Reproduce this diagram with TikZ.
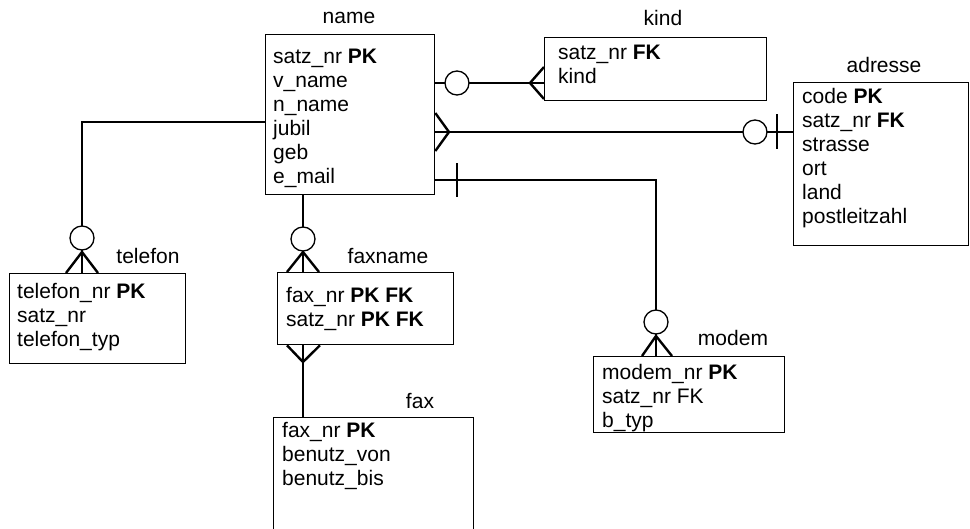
\documentclass[tikz,border=0pt]{standalone}
\usepackage{fontspec}
\setmainfont{Liberation Sans}
\newcommand\attrlist[4]{\foreach \t [count=\i from 0] in {#4} {\node[attr] (#1-\i) at (#2,#3+24*\i) {\t};}}
\begin{document}
\begin{tikzpicture}[x=1pt,y=-1pt,
  box/.style={draw, line width=1.3pt, inner sep=0pt, anchor=north west},
  conn/.style={line width=2.4pt},
  attr/.style={anchor=base west, inner sep=0pt, font=\fontsize{21}{24}\selectfont},
  title/.style={anchor=base, inner sep=0pt, font=\fontsize{21}{24}\selectfont},
  ring/.style={circle, draw, line width=1.3pt, fill=white, minimum size=24pt, inner sep=0pt}]
\useasboundingbox (0,0) rectangle (970,528);
\clip (0,0) rectangle (970,528);
% boxes
\node[box, minimum width=169pt, minimum height=160pt] (name) at (265,34) {};
\node[box, minimum width=222pt, minimum height=63pt] (kind) at (544,37) {};
\node[box, minimum width=175pt, minimum height=163pt] (adresse) at (793,82) {};
\node[box, minimum width=176pt, minimum height=90pt] (telefon) at (9,273) {};
\node[box, minimum width=176pt, minimum height=72pt] (faxname) at (277,272) {};
\node[box, minimum width=200pt, minimum height=140pt] (fax) at (273,417) {};
\node[box, minimum width=191pt, minimum height=76pt] (modem) at (593,356) {};
% titles
\node[title] (t-name) at (349,23) {name};
\node[title] (t-kind) at (663,25) {kind};
\node[title] (t-adresse) at (884,72) {adresse};
\node[title] (t-telefon) at (148,263) {telefon};
\node[title] (t-faxname) at (388,263) {faxname};
\node[title] (t-fax) at (420,408) {fax};
\node[title] (t-modem) at (733,345) {modem};
% attributes
\attrlist{a-name}{273}{63}{satz\_nr \textbf{PK}, v\_name, n\_name, jubil, geb, e\_mail}
\attrlist{a-kind}{558}{59}{satz\_nr \textbf{FK}, kind}
\attrlist{a-adresse}{802}{103}{code \textbf{PK}, satz\_nr \textbf{FK}, strasse, ort, land, postleitzahl}
\attrlist{a-telefon}{17}{298}{telefon\_nr \textbf{PK}, satz\_nr, telefon\_typ}
\attrlist{a-faxname}{286}{302}{fax\_nr \textbf{PK FK}, satz\_nr \textbf{PK FK}}
\attrlist{a-fax}{282}{437}{fax\_nr \textbf{PK}, benutz\_von, benutz\_bis}
\attrlist{a-modem}{602}{379}{modem\_nr \textbf{PK}, satz\_nr FK, b\_typ}
% connectors
% name -- kind
\coordinate (c1) at (457,83);
\draw[conn] (name.east |- c1) -- (kind.west |- c1);
\draw[conn] (kind.west |- 0,67) -- (530,83) -- (kind.west |- 0,99);
\node[ring] (r1) at (c1) {};
% name -- adresse
\coordinate (c2) at (755,132);
\draw[conn] (name.east |- c2) -- (adresse.west |- c2);
\draw[conn] (name.east |- 0,113) -- (449,132) -- (name.east |- 0,151);
\draw[conn] (777,114) -- (777,149);
\node[ring] (r2) at (c2) {};
% name -- modem
\coordinate (c3) at (656,322);
\draw[conn] (name.east |- 0,180) -- (656,180) -- (656,0 |- modem.north);
\draw[conn] (457,163) -- (457,197);
\draw[conn] (642,0 |- modem.north) -- (656,336) -- (672,0 |- modem.north);
\node[ring] (r3) at (c3) {};
% name -- telefon
\coordinate (c4) at (82,238);
\draw[conn] (name.west |- 0,122) -- (82,122) -- (82,0 |- telefon.north);
\draw[conn] (66,0 |- telefon.north) -- (82,252) -- (98,0 |- telefon.north);
\node[ring] (r4) at (c4) {};
% name -- faxname
\coordinate (c5) at (303,239);
\draw[conn] (303,0 |- name.south) -- (303,0 |- faxname.north);
\draw[conn] (287,0 |- faxname.north) -- (303,252) -- (319,0 |- faxname.north);
\node[ring] (r5) at (c5) {};
% faxname -- fax
\draw[conn] (303,0 |- faxname.south) -- (303,0 |- fax.north);
\draw[conn] (287,0 |- faxname.south) -- (303,362) -- (320,0 |- faxname.south);
\end{tikzpicture}
\end{document}
